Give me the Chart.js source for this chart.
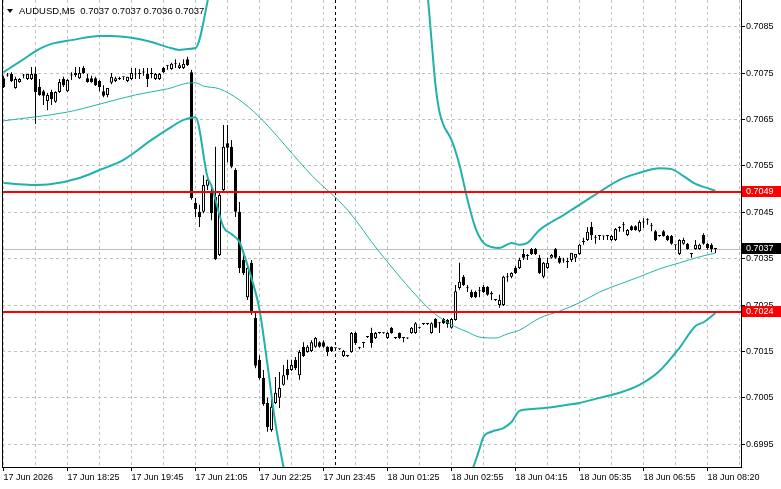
<!DOCTYPE html>
<html>
<head>
<meta charset="utf-8">
<title>AUDUSD,M5</title>
<style>
  html, body { margin: 0; padding: 0; background: #fff; }
</style>
<script src="https://cdn.jsdelivr.net/npm/chart.js@4.4.1/dist/chart.umd.min.js"></script>
</head>
<body>
<canvas id="graficoVelas" width="781" height="489"></canvas>
<script>
// Datos OHLC (velas de 5 minutos, índice = posición de la barra)
const aperturas = [
  0.70739,0.70746,0.70748,0.70718,0.70731,0.70746,0.70737,0.70737,0.70748,0.70720,
  0.70711,0.70690,0.70709,0.70688,0.70709,0.70737,0.70711,0.70746,0.70746,0.70739,
  0.70761,0.70739,0.70739,0.70739,0.70733,0.70711,0.70703,0.70729,0.70733,0.70737,
  0.70742,0.70733,0.70737,0.70748,0.70748,0.70752,0.70748,0.70748,0.70737,0.70737,
  0.70761,0.70767,0.70759,0.70770,0.70761,0.70761,0.70780,0.70752,0.70470,0.70451,
  0.70451,0.70507,0.70492,0.70483,0.70358,0.70498,0.70599,0.70591,0.70541,0.70451,
  0.70347,0.70267,0.70341,0.70222,0.70132,0.70093,0.70039,0.69981,0.70039,0.70050,
  0.70078,0.70112,0.70110,0.70132,0.70099,0.70160,0.70149,0.70151,0.70160,0.70170,
  0.70170,0.70160,0.70160,0.70158,0.70155,0.70140,0.70140,0.70149,0.70190,0.70158,
  0.70168,0.70181,0.70190,0.70179,0.70190,0.70190,0.70179,0.70201,0.70179,0.70190,
  0.70179,0.70179,0.70190,0.70190,0.70201,0.70209,0.70209,0.70190,0.70220,0.70211,
  0.70220,0.70218,0.70201,0.70218,0.70287,0.70311,0.70287,0.70278,0.70278,0.70280,
  0.70289,0.70289,0.70274,0.70261,0.70250,0.70250,0.70311,0.70311,0.70330,0.70330,
  0.70360,0.70356,0.70371,0.70371,0.70352,0.70311,0.70330,0.70352,0.70371,0.70352,
  0.70347,0.70343,0.70347,0.70352,0.70360,0.70386,0.70390,0.70418,0.70395,0.70399,
  0.70399,0.70399,0.70390,0.70390,0.70416,0.70423,0.70401,0.70420,0.70420,0.70409,
  0.70429,0.70433,0.70420,0.70409,0.70399,0.70409,0.70399,0.70399,0.70380,0.70360,
  0.70382,0.70382,0.70360,0.70371,0.70371,0.70401,0.70382,0.70380,0.70371
];
const maximos = [
  0.70744,0.70750,0.70752,0.70742,0.70739,0.70748,0.70748,0.70763,0.70763,0.70737,
  0.70714,0.70707,0.70714,0.70711,0.70737,0.70742,0.70737,0.70752,0.70763,0.70763,
  0.70765,0.70748,0.70744,0.70742,0.70735,0.70724,0.70718,0.70750,0.70742,0.70742,
  0.70742,0.70742,0.70761,0.70761,0.70759,0.70761,0.70761,0.70761,0.70750,0.70750,
  0.70763,0.70767,0.70772,0.70780,0.70772,0.70780,0.70785,0.70757,0.70481,0.70466,
  0.70530,0.70530,0.70509,0.70591,0.70492,0.70638,0.70638,0.70606,0.70545,0.70472,
  0.70358,0.70336,0.70347,0.70235,0.70142,0.70110,0.70050,0.70056,0.70095,0.70106,
  0.70121,0.70132,0.70132,0.70138,0.70153,0.70170,0.70164,0.70174,0.70181,0.70172,
  0.70174,0.70161,0.70161,0.70158,0.70156,0.70153,0.70141,0.70192,0.70192,0.70160,
  0.70169,0.70182,0.70201,0.70192,0.70191,0.70191,0.70192,0.70203,0.70180,0.70191,
  0.70180,0.70180,0.70203,0.70213,0.70203,0.70211,0.70211,0.70213,0.70222,0.70213,
  0.70222,0.70220,0.70222,0.70293,0.70341,0.70315,0.70293,0.70283,0.70281,0.70289,
  0.70293,0.70291,0.70280,0.70263,0.70272,0.70313,0.70319,0.70321,0.70334,0.70352,
  0.70371,0.70360,0.70373,0.70373,0.70358,0.70343,0.70352,0.70360,0.70373,0.70356,
  0.70352,0.70352,0.70362,0.70358,0.70382,0.70395,0.70418,0.70429,0.70401,0.70400,
  0.70400,0.70400,0.70401,0.70416,0.70420,0.70429,0.70414,0.70422,0.70422,0.70433,
  0.70437,0.70437,0.70427,0.70412,0.70401,0.70412,0.70401,0.70401,0.70380,0.70392,
  0.70395,0.70384,0.70361,0.70390,0.70382,0.70405,0.70384,0.70383,0.70371
];
const minimos = [
  0.70718,0.70742,0.70731,0.70716,0.70729,0.70739,0.70735,0.70735,0.70640,0.70701,
  0.70681,0.70670,0.70681,0.70686,0.70707,0.70720,0.70709,0.70735,0.70742,0.70737,
  0.70748,0.70729,0.70729,0.70722,0.70711,0.70698,0.70698,0.70726,0.70731,0.70735,
  0.70735,0.70731,0.70735,0.70737,0.70737,0.70744,0.70720,0.70739,0.70735,0.70735,
  0.70750,0.70757,0.70757,0.70761,0.70759,0.70759,0.70765,0.70477,0.70440,0.70418,
  0.70448,0.70498,0.70433,0.70347,0.70356,0.70494,0.70558,0.70545,0.70440,0.70319,
  0.70315,0.70261,0.70229,0.70114,0.70089,0.70033,0.69977,0.69977,0.70037,0.70028,
  0.70076,0.70089,0.70108,0.70110,0.70089,0.70138,0.70147,0.70149,0.70158,0.70158,
  0.70158,0.70140,0.70149,0.70155,0.70153,0.70138,0.70138,0.70147,0.70164,0.70155,
  0.70158,0.70179,0.70158,0.70177,0.70188,0.70188,0.70177,0.70188,0.70177,0.70177,
  0.70170,0.70177,0.70188,0.70188,0.70199,0.70207,0.70207,0.70188,0.70201,0.70190,
  0.70209,0.70201,0.70199,0.70216,0.70283,0.70291,0.70278,0.70265,0.70265,0.70267,
  0.70276,0.70270,0.70261,0.70259,0.70244,0.70248,0.70300,0.70308,0.70317,0.70328,
  0.70347,0.70347,0.70358,0.70358,0.70317,0.70308,0.70328,0.70350,0.70350,0.70339,
  0.70341,0.70330,0.70343,0.70343,0.70358,0.70380,0.70388,0.70390,0.70382,0.70390,
  0.70390,0.70390,0.70388,0.70388,0.70408,0.70408,0.70399,0.70410,0.70410,0.70407,
  0.70416,0.70423,0.70409,0.70388,0.70397,0.70397,0.70388,0.70380,0.70369,0.70358,
  0.70380,0.70369,0.70352,0.70369,0.70369,0.70380,0.70369,0.70364,0.70362
];
const cierres = [
  0.70720,0.70745,0.70733,0.70737,0.70737,0.70745,0.70748,0.70748,0.70709,0.70703,
  0.70701,0.70703,0.70694,0.70709,0.70731,0.70724,0.70735,0.70745,0.70750,0.70750,
  0.70750,0.70731,0.70731,0.70724,0.70720,0.70701,0.70718,0.70742,0.70739,0.70739,
  0.70741,0.70742,0.70750,0.70747,0.70750,0.70751,0.70737,0.70750,0.70748,0.70748,
  0.70752,0.70766,0.70770,0.70769,0.70767,0.70770,0.70767,0.70481,0.70457,0.70440,
  0.70509,0.70520,0.70448,0.70349,0.70487,0.70591,0.70589,0.70548,0.70451,0.70330,
  0.70319,0.70330,0.70233,0.70119,0.70093,0.70037,0.69987,0.70031,0.70061,0.70071,
  0.70099,0.70099,0.70121,0.70114,0.70149,0.70140,0.70160,0.70170,0.70179,0.70160,
  0.70160,0.70149,0.70151,0.70157,0.70155,0.70151,0.70140,0.70190,0.70168,0.70157,
  0.70168,0.70181,0.70168,0.70190,0.70190,0.70189,0.70190,0.70190,0.70179,0.70179,
  0.70179,0.70178,0.70201,0.70211,0.70201,0.70209,0.70210,0.70211,0.70201,0.70211,
  0.70211,0.70209,0.70220,0.70280,0.70300,0.70293,0.70286,0.70267,0.70267,0.70280,
  0.70278,0.70272,0.70274,0.70261,0.70261,0.70311,0.70310,0.70319,0.70319,0.70347,
  0.70352,0.70356,0.70360,0.70360,0.70319,0.70341,0.70341,0.70358,0.70352,0.70341,
  0.70346,0.70343,0.70362,0.70360,0.70380,0.70386,0.70408,0.70401,0.70395,0.70399,
  0.70398,0.70399,0.70399,0.70414,0.70416,0.70422,0.70412,0.70412,0.70412,0.70429,
  0.70428,0.70433,0.70420,0.70390,0.70399,0.70399,0.70390,0.70382,0.70379,0.70390,
  0.70390,0.70371,0.70360,0.70380,0.70380,0.70382,0.70373,0.70371,0.70371
];

// Bandas de Bollinger (barra, valor)
const idxSuperior = [0,4,9,12,17,24,27,32,37,41,44,46,48,52,58,66,80,95,103,106,107,108,109,110,112,114,116,118,120,122,124,127,129,131,134,137,140,144,149,154,159,164,167,170,173,176,178];
const bandaSuperior = [0.70752,0.70774,0.70802,0.70813,0.70821,0.70830,0.70830,0.70826,0.70817,0.70806,0.70800,0.70802,0.70804,0.70942,0.71080,0.71231,0.71274,0.71166,0.71015,0.70918,0.70821,0.70724,0.70666,0.70638,0.70606,0.70552,0.70477,0.70416,0.70384,0.70375,0.70373,0.70384,0.70380,0.70384,0.70412,0.70429,0.70444,0.70466,0.70494,0.70520,0.70535,0.70545,0.70543,0.70528,0.70511,0.70502,0.70496];
const idxMedia = [0,16,24,33,41,47,48,50,54,59,64,77,86,94,107,110,113,116,119,123,126,129,134,139,144,149,154,159,164,169,174,178];
const bandaMedia = [0.70647,0.70666,0.70683,0.70703,0.70716,0.70729,0.70729,0.70722,0.70716,0.70692,0.70655,0.70530,0.70455,0.70364,0.70237,0.70218,0.70203,0.70192,0.70181,0.70179,0.70188,0.70196,0.70222,0.70237,0.70255,0.70278,0.70295,0.70311,0.70328,0.70341,0.70354,0.70362];
const idxInferior = [0,7,12,19,24,30,37,42,45,48,51,52,55,57,59,60,62,64,66,68,70,72,80,95,108,114,117,118,119,120,122,125,127,129,132,137,141,144,149,154,159,164,169,173,175,178];
const bandaInferior = [0.70513,0.70509,0.70511,0.70524,0.70541,0.70563,0.70606,0.70634,0.70649,0.70655,0.70526,0.70507,0.70418,0.70403,0.70386,0.70362,0.70308,0.70240,0.70121,0.69994,0.69901,0.69808,0.69615,0.69571,0.69636,0.69765,0.69888,0.69914,0.69940,0.69966,0.69977,0.69985,0.69998,0.70022,0.70026,0.70030,0.70035,0.70039,0.70050,0.70061,0.70078,0.70108,0.70158,0.70205,0.70213,0.70233];

// Eje de tiempo y de precios
const etiquetasX = ['17 Jun 2026','17 Jun 18:25','17 Jun 19:45','17 Jun 21:05','17 Jun 22:25','17 Jun 23:45','18 Jun 01:25','18 Jun 02:55','18 Jun 04:15','18 Jun 05:35','18 Jun 06:55','18 Jun 08:20'];
const idxEtiquetasX = [0,16,32,48,64,80,96,112,128,144,160,176];
const ticksPrecio = [0.6995,0.7005,0.7015,0.7025,0.7035,0.7045,0.7055,0.7065,0.7075,0.7085];

// Niveles horizontales, precio actual, separador de día y título
const niveles = [0.70494, 0.70236];
const etiquetasNiveles = ['0.7049', '0.7024'];
const precioActual = 0.70371;
const etiquetaPrecio = '0.7037';
const separadorDia = 83;
const titulo = 'AUDUSD,M5  0.7037 0.7037 0.7036 0.7037';

const fuente = '"Liberation Sans", Arial, sans-serif';
const verdeAzulado = '#20b2aa';
Chart.defaults.font.family = fuente;
Chart.defaults.font.size = 9;
Chart.defaults.color = '#000';

const indices = cierres.map((_, i) => i);
const mechas = indices.map(i => ({ x: i, y: [minimos[i], maximos[i]] }));
const cuerpos = indices.map(i => ({ x: i, y: [Math.min(aperturas[i], cierres[i]), Math.max(aperturas[i], cierres[i])] }));
const coloresCuerpo = indices.map(i => cierres[i] > aperturas[i] ? '#ffffff' : '#000000');
const puntos = (idx, vals) => idx.map((v, k) => ({ x: v, y: vals[k] }));

const lineasX = [];
for (let v = 0; v <= 184; v += 8) lineasX.push(v);

// sin relleno extra de las etiquetas en los bordes del área
const sinRelleno = s => { s.paddingTop = 0; s.paddingBottom = 0; s.paddingLeft = 0; s.paddingRight = 0; };

const opcionesLinea = {
    type: 'line',
    borderColor: verdeAzulado,
    pointRadius: 0,
    cubicInterpolationMode: 'monotone',
    clip: 0,
    order: 0
};

const dibujos = {
    id: 'dibujos',
    beforeDatasetsDraw(chart) {
        const { ctx, chartArea: a, scales: { x, y } } = chart;
        ctx.save();
        const yp = Math.round(y.getPixelForValue(precioActual)) + 0.5;
        ctx.strokeStyle = '#c0c0c0';
        ctx.lineWidth = 1;
        ctx.beginPath(); ctx.moveTo(a.left, yp); ctx.lineTo(a.right, yp); ctx.stroke();
        const xs = Math.floor(x.getPixelForValue(separadorDia)) + 0.5;
        ctx.strokeStyle = '#000';
        ctx.setLineDash([3, 3]);
        ctx.beginPath(); ctx.moveTo(xs, a.top); ctx.lineTo(xs, a.bottom); ctx.stroke();
        ctx.restore();
    },
    afterDatasetsDraw(chart) {
        const { ctx, chartArea: a, scales: { y } } = chart;
        ctx.save();
        ctx.strokeStyle = '#ff0000';
        ctx.lineWidth = 2;
        niveles.forEach(v => {
            const yp = Math.round(y.getPixelForValue(v));
            ctx.beginPath(); ctx.moveTo(a.left, yp); ctx.lineTo(a.right, yp); ctx.stroke();
        });
        ctx.restore();
    },
    afterDraw(chart) {
        const { ctx, chartArea: a, scales: { y }, width } = chart;
        ctx.save();
        // borde izquierdo
        ctx.strokeStyle = '#000';
        ctx.lineWidth = 1;
        ctx.beginPath(); ctx.moveTo(a.left + 0.5, a.top); ctx.lineTo(a.left + 0.5, a.bottom); ctx.stroke();
        // etiquetas de precio en el eje
        ctx.font = '9px ' + fuente;
        ctx.textBaseline = 'middle';
        ctx.textAlign = 'left';
        const caja = (v, texto, fondo) => {
            const yp = Math.round(y.getPixelForValue(v));
            ctx.fillStyle = fondo;
            ctx.fillRect(a.right + 1, yp - 6, width - a.right - 1, 11);
            ctx.fillStyle = '#fff';
            ctx.fillText(texto, a.right + 5, yp);
        };
        niveles.forEach((v, k) => caja(v, etiquetasNiveles[k], '#ff0000'));
        caja(precioActual, etiquetaPrecio, '#000000');
        // título
        ctx.fillStyle = '#000';
        ctx.beginPath(); ctx.moveTo(7, 9); ctx.lineTo(13, 9); ctx.lineTo(10, 13); ctx.closePath(); ctx.fill();
        ctx.font = '9.5px ' + fuente;
        ctx.fillText(titulo, 19, 11);
        ctx.restore();
    }
};

const graficoVelas = new Chart(document.getElementById('graficoVelas').getContext('2d'), {
    type: 'bar',
    data: {
        datasets: [
            { ...opcionesLinea, data: puntos(idxSuperior, bandaSuperior), borderWidth: 2 },
            { ...opcionesLinea, data: puntos(idxMedia, bandaMedia), borderWidth: 1 },
            { ...opcionesLinea, data: puntos(idxInferior, bandaInferior), borderWidth: 2 },
            {
                data: cuerpos,
                backgroundColor: coloresCuerpo,
                borderColor: '#000',
                borderWidth: 1,
                borderSkipped: false,
                barThickness: 3,
                minBarLength: 1,
                inflateAmount: 0,
                grouped: false,
                order: 1
            },
            {
                data: mechas,
                backgroundColor: '#000',
                borderWidth: 0,
                barThickness: 1,
                minBarLength: 1,
                inflateAmount: 0,
                grouped: false,
                order: 2
            }
        ]
    },
    options: {
        responsive: false,
        animation: false,
        events: [],
        layout: { padding: { left: 2, top: 0, right: 0, bottom: 0 } },
        plugins: { legend: { display: false }, tooltip: { enabled: false } },
        scales: {
            x: {
                type: 'linear',
                min: -0.375,
                max: 184.375,
                offset: false,
                afterBuildTicks: s => { s.ticks = lineasX.map(v => ({ value: v })); },
                afterFit: s => { s.height = 22; sinRelleno(s); },
                ticks: {
                    autoSkip: false,
                    maxRotation: 0,
                    align: 'start',
                    padding: 1,
                    callback: v => {
                        const k = idxEtiquetasX.indexOf(v);
                        return k >= 0 ? etiquetasX[k] : '';
                    }
                },
                grid: {
                    color: '#c0c0c0',
                    offset: false,
                    tickLength: 4,
                    tickColor: c => (c.index % 2 === 0 ? '#000' : 'rgba(0,0,0,0)')
                },
                border: { display: true, color: '#000', width: 1, dash: [3, 3] }
            },
            y: {
                position: 'right',
                min: 0.69901,
                max: 0.709075,
                afterBuildTicks: s => { s.ticks = ticksPrecio.map(v => ({ value: v })); },
                afterFit: s => { s.width = 40; sinRelleno(s); },
                ticks: {
                    padding: 1,
                    callback: v => v.toFixed(4)
                },
                grid: { color: '#c0c0c0', tickLength: 4, tickColor: '#000' },
                border: { display: true, color: '#000', width: 1, dash: [3, 3] }
            }
        }
    },
    plugins: [dibujos]
});
</script>
</body>
</html>
